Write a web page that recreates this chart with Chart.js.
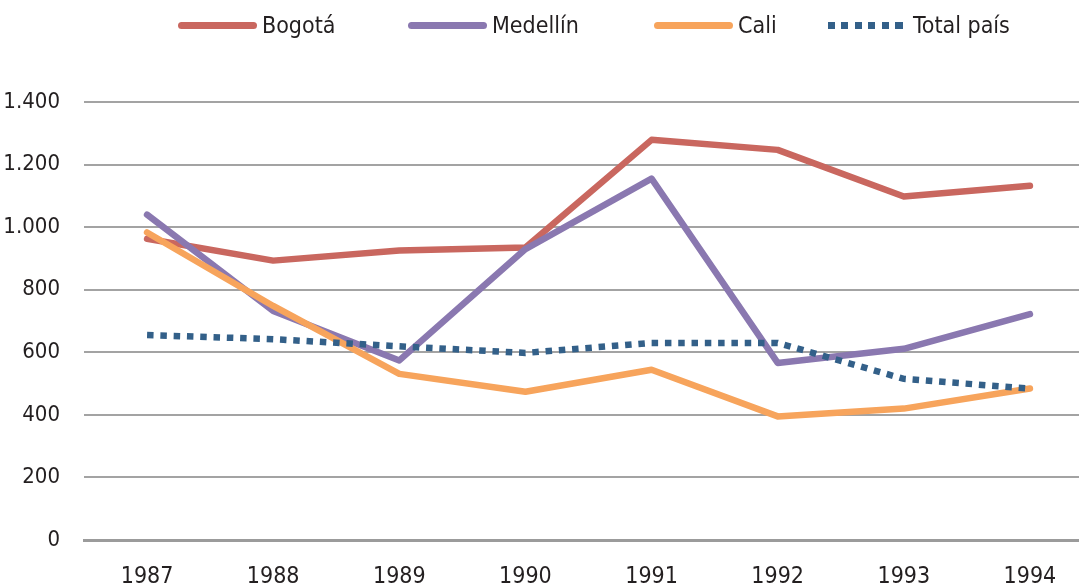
<!DOCTYPE html>
<html>
<head>
<meta charset="utf-8">
<script src="https://cdn.jsdelivr.net/npm/chart.js@4/dist/chart.umd.min.js"></script>
<style>
  html, body { margin: 0; padding: 0; background: #fff; overflow: hidden; }
  #wrap { position: relative; width: 1079px; height: 588px; overflow: hidden; }
  #chart { position: absolute; left: 0; top: 0; }
  .item { position: absolute; top: 9px; display: flex; align-items: center; height: 32px;
          font-family: 'Liberation Sans Narrow', 'DejaVu Sans Condensed', sans-serif;
          font-size: 23px; color: #231f20; white-space: nowrap; }
  .swatch { width: 79px; height: 7px; border-radius: 4px; margin-right: 5px; }
</style>
</head>
<body>
<div id="wrap">
  <canvas id="chart" width="1093" height="588"></canvas>
  <div id="legend"></div>
</div>
<script>
const years = ['1987', '1988', '1989', '1990', '1991', '1992', '1993', '1994'];
const bogota   = [963, 893, 925, 935, 1279, 1247, 1098, 1132];
const medellin = [1040, 732, 574, 930, 1155, 566, 611, 722];
const cali     = [983, 748, 531, 474, 544, 395, 420, 484];
const totalPais = [655, 642, 619, 598, 630, 630, 515, 484];
const yTickLabels = ['0', '200', '400', '600', '800', '1.000', '1.200', '1.400'];

const fontFamily = "'Liberation Sans Narrow', 'DejaVu Sans Condensed', sans-serif";

// legend positions (left edge of each item)
const legendLeft = [178, 408, 654, 828];

const ctx = document.getElementById('chart').getContext('2d');

function lineSet(label, data, color, order) {
  return {
    label: label,
    data: data,
    borderColor: color,
    backgroundColor: color,
    borderWidth: 6.5,
    borderCapStyle: 'round',
    borderJoinStyle: 'round',
    pointRadius: 0,
    pointHoverRadius: 0,
    tension: 0,
    order: order
  };
}

const totalSet = lineSet('Total país', totalPais, '#336089', 1);
totalSet.borderDash = [6.5, 6.8];
totalSet.borderCapStyle = 'butt';
totalSet.borderJoinStyle = 'miter';

const chart = new Chart(ctx, {
  type: 'line',
  data: {
    labels: years,
    datasets: [
      lineSet('Bogotá', bogota, '#c9675f', 4),
      lineSet('Medellín', medellin, '#8a78b0', 3),
      lineSet('Cali', cali, '#f7a45c', 2),
      totalSet
    ]
  },
  options: {
    responsive: false,
    animation: false,
    devicePixelRatio: 1,
    layout: { padding: { top: 102, left: 0, right: 0, bottom: 0 } },
    plugins: {
      legend: { display: false },
      tooltip: { enabled: false }
    },
    scales: {
      x: {
        offset: true,
        grid: { display: false, drawTicks: false },
        border: { display: true, color: '#9b9b9b', width: 3 },
        ticks: {
          padding: 23,
          color: '#231f20',
          font: { family: fontFamily, size: 23 },
          maxRotation: 0
        },
        afterFit: s => { s.height = 48; }
      },
      y: {
        min: 0,
        max: 1400,
        grid: { color: '#a3a3a3', lineWidth: 2, drawTicks: false },
        border: { display: false },
        ticks: {
          stepSize: 200,
          padding: 24,
          color: '#231f20',
          font: { family: fontFamily, size: 22 },
          callback: (v, i) => yTickLabels[i]
        },
        afterFit: s => { s.width = 84; }
      }
    }
  }
});

// html legend built from the datasets
const legendEl = document.getElementById('legend');
chart.data.datasets.forEach((ds, i) => {
  const item = document.createElement('div');
  item.className = 'item';
  item.style.left = legendLeft[i] + 'px';
  const sw = document.createElement('span');
  sw.className = 'swatch';
  if (ds.borderDash) {
    sw.style.borderRadius = '0';
    sw.style.background = 'repeating-linear-gradient(to right, ' + ds.borderColor +
      ' 0 7px, transparent 7px 13.5px)';
    sw.style.marginRight = '10px';
    sw.style.width = '75px';
  } else {
    sw.style.background = ds.borderColor;
  }
  const txt = document.createElement('span');
  txt.textContent = ds.label;
  item.appendChild(sw);
  item.appendChild(txt);
  legendEl.appendChild(item);
});
</script>
</body>
</html>
